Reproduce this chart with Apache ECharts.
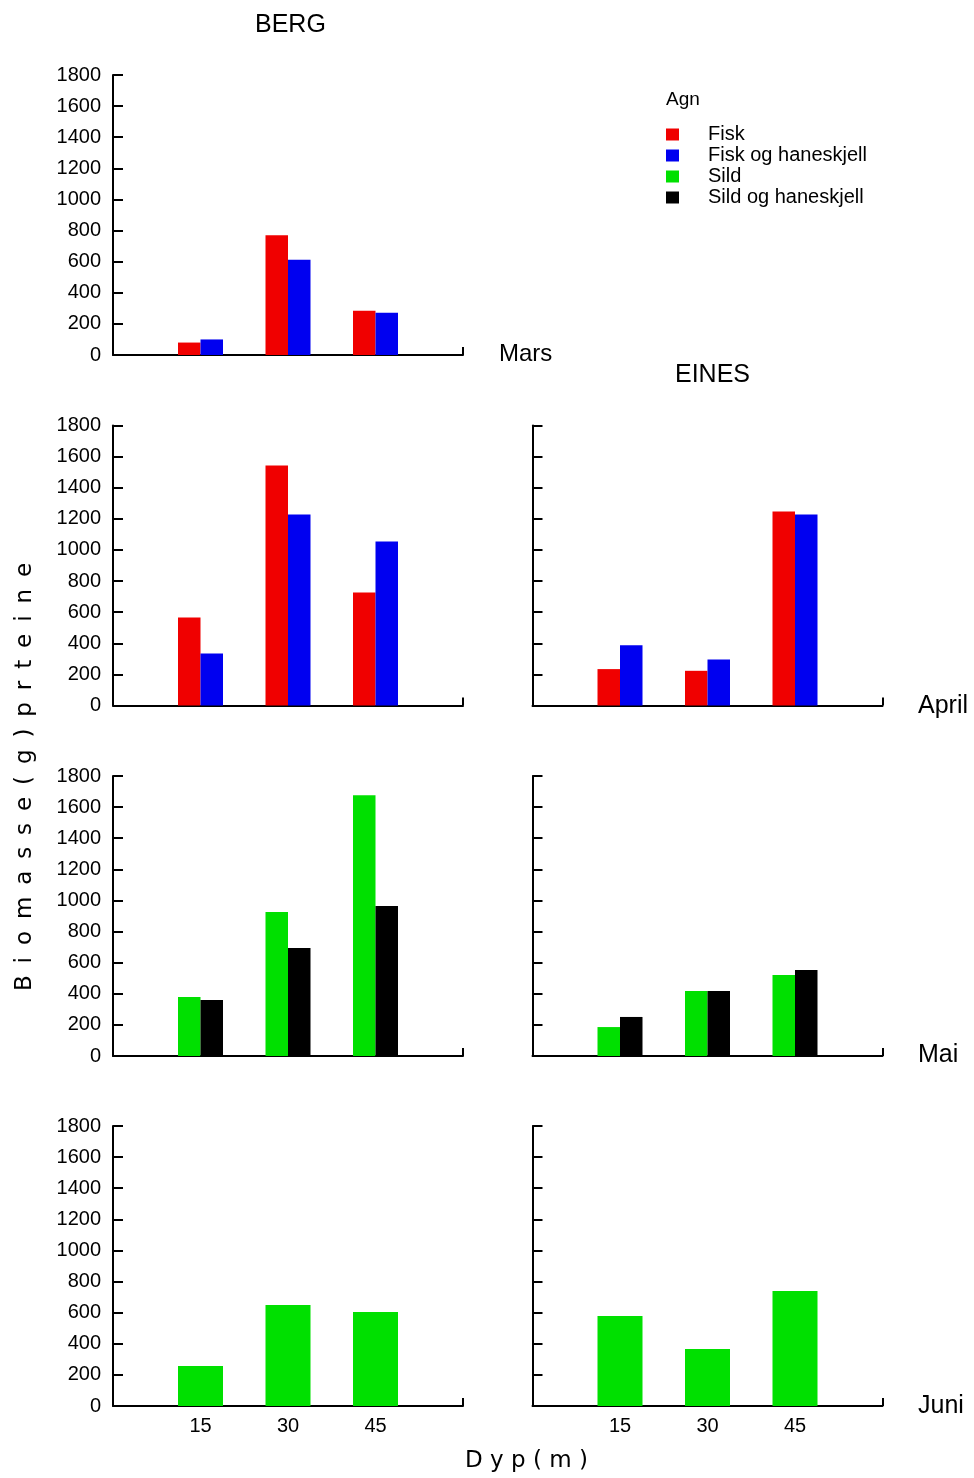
<!DOCTYPE html>
<html><head><meta charset="utf-8">
<script src="https://cdn.jsdelivr.net/npm/echarts@6/dist/echarts.min.js"></script>
<style>html,body{margin:0;padding:0;background:#fff}#c{width:974px;height:1478px}</style>
</head><body><div id="c"></div>
<script>
// Depth categories (0 and 60 are the empty ends of the axis)
const depthCategories = ['0', '15', '30', '45', '60'];
const depthTickLabels = ['15', '30', '45'];
const yMin = 0, yMax = 1800, yStep = 200;
const seriesNames = ['Fisk', 'Fisk og haneskjell', 'Sild', 'Sild og haneskjell'];
const seriesColors = ['#f00000', '#0000f0', '#00e000', '#000000'];

// BERG
const bergMarsFisk = [80, 770, 285];
const bergMarsFiskHane = [100, 612, 272];
const bergAprilFisk = [566, 1543, 726];
const bergAprilFiskHane = [334, 1228, 1054];
const bergMaiSild = [379, 925, 1677];
const bergMaiSildHane = [360, 694, 964];
const bergJuniSild = [257, 649, 604];
// EINES
const einesAprilFisk = [234, 223, 1247];
const einesAprilFiskHane = [388, 296, 1228];
const einesMaiSild = [186, 418, 521];
const einesMaiSildHane = [251, 418, 553];
const einesJuniSild = [578, 366, 739];

const FONT = '"Liberation Sans", Arial, sans-serif';
const LEFT_X = 113, RIGHT_X = 532.5, W = 350, H = 280;
const panels = [
  { left: LEFT_X, top: 75, yLabels: true, xLabels: false, series: [[0, bergMarsFisk], [1, bergMarsFiskHane]] },
  { left: LEFT_X, top: 425.5, yLabels: true, xLabels: false, series: [[0, bergAprilFisk], [1, bergAprilFiskHane]] },
  { left: RIGHT_X, top: 425.5, yLabels: false, xLabels: false, series: [[0, einesAprilFisk], [1, einesAprilFiskHane]] },
  { left: LEFT_X, top: 776, yLabels: true, xLabels: false, series: [[2, bergMaiSild], [3, bergMaiSildHane]] },
  { left: RIGHT_X, top: 776, yLabels: false, xLabels: false, series: [[2, einesMaiSild], [3, einesMaiSildHane]] },
  { left: LEFT_X, top: 1126, yLabels: true, xLabels: true, series: [[2, bergJuniSild]] },
  { left: RIGHT_X, top: 1126, yLabels: false, xLabels: true, series: [[2, einesJuniSild]] }
];

const grid = [], xAxis = [], yAxis = [], series = [];
panels.forEach((p, i) => {
  grid.push({ left: p.left, top: p.top, width: W, height: H, containLabel: false });
  xAxis.push({
    type: 'category', gridIndex: i, data: depthCategories, boundaryGap: false,
    axisLine: { lineStyle: { color: '#000', width: 2 } },
    axisTick: { show: true, inside: true, length: 8, lineStyle: { color: '#000', width: 2 },
      interval: (idx) => idx === depthCategories.length - 1 },
    axisLabel: { show: p.xLabels, interval: 0, margin: 10, color: '#000', fontSize: 20, fontFamily: FONT,
      formatter: (v) => depthTickLabels.indexOf(v) >= 0 ? v : '' },
    splitLine: { show: false }
  });
  yAxis.push({
    type: 'value', gridIndex: i, min: yMin, max: yMax, interval: yStep,
    axisLine: { show: true, lineStyle: { color: '#000', width: 2 } },
    axisTick: { show: true, inside: true, length: 10, lineStyle: { color: '#000', width: 2 } },
    axisLabel: { show: p.yLabels, margin: 12, color: '#000', fontSize: 20, fontFamily: FONT,
      formatter: (v) => String(v) },
    splitLine: { show: false }
  });
  const single = p.series.length === 1;
  p.series.forEach(([k, vals]) => {
    series.push({
      type: 'bar', name: seriesNames[k], xAxisIndex: i, yAxisIndex: i,
      data: [null, ...vals, null],
      barWidth: single ? 45 : 22.5, barGap: '0%',
      itemStyle: { color: seriesColors[k] },
      emphasis: { disabled: true }
    });
  });
});

function txt(x, y, text, size, family, align, rot) {
  return { type: 'text', x: x, y: y, rotation: rot || 0,
    style: { text: text, fill: '#000', fontSize: size, fontFamily: family || FONT,
      align: align || 'left', textAlign: align || 'left', verticalAlign: 'middle', textVerticalAlign: 'middle' } };
}
const DV = '"DejaVu Sans", sans-serif';
const graphic = [
  txt(255, 25.5, 'BERG', 25),
  txt(675, 375, 'EINES', 25),
  txt(499, 354, 'Mars', 24),
  txt(918, 706, 'April', 25),
  txt(918, 1055, 'Mai', 25),
  txt(918, 1406, 'Juni', 25),
  txt(666, 100, 'Agn', 19),
  txt(25, 777, 'B \u2009i \u2009o \u2009m \u2009a \u2009s \u2009s \u2009e \u2009( \u2009g \u2009) \u2009p \u2009r \u2009t \u2009e \u2009i \u2009n \u2009e', 23, DV, 'center', Math.PI / 2),
  txt(526.5, 1461, 'D y p ( m )', 23, DV, 'center')
];

const chart = echarts.init(document.getElementById('c'), null, { renderer: 'canvas' });
chart.setOption({
  animation: false,
  backgroundColor: '#fff',
  grid, xAxis, yAxis, series, graphic,
  legend: {
    data: seriesNames, orient: 'vertical', left: 661, top: 119, icon: 'rect',
    itemWidth: 13, itemHeight: 12, itemGap: 0, selectedMode: false,
    textStyle: { fontSize: 20, fontFamily: FONT, color: '#000', lineHeight: 21, padding: [0, 0, 0, 24] }
  }
});
</script></body></html>
